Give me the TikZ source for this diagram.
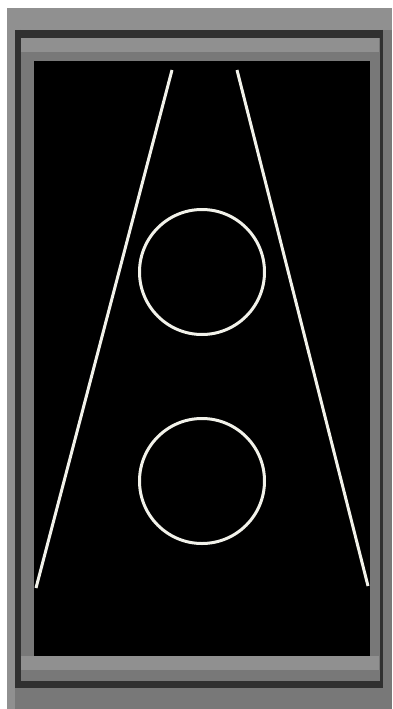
\documentclass[tikz,border=0pt]{standalone}
\usepackage{tikz}
\usetikzlibrary{positioning,calc}
\definecolor{FrameGray}{HTML}{787878}
\definecolor{FrameLight}{HTML}{909090}
\definecolor{FrameDark}{HTML}{303030}
\definecolor{ChalkWhite}{HTML}{F2F2EA}

\begin{document}
\begin{tikzpicture}[x=1pt,y=-1pt]
  \useasboundingbox (0,0) rectangle (392,709);
  \fill[white] (0,0) rectangle (392,709);
  % frame
  \fill[FrameGray] (7,8) rectangle (392,709);
  \fill[FrameLight] (7,8) rectangle (392,30);
  \fill[FrameLight] (7,8) rectangle (15,709);
  \fill[FrameDark] (15,30) rectangle (383,38);
  \fill[FrameDark] (15,681) rectangle (383,688);
  \draw[FrameDark,line width=6pt] (18,30) -- (18,688);
  \draw[FrameDark,line width=3pt] (381,30) -- (381,688);
  \fill[FrameLight] (21,38) rectangle (379,52);
  \fill[FrameLight] (21,656) rectangle (379,670);
  % board
  \fill[black] (34,61) rectangle (370,656);
  \coordinate (lt) at (172,70);
  \coordinate (lb) at (36,588);
  \coordinate (rt) at (237,70);
  \coordinate (rb) at (368,586);
  \draw[ChalkWhite,line width=3pt] (lt) -- (lb);
  \draw[ChalkWhite,line width=3pt] (rt) -- (rb);
  \node[circle,draw=ChalkWhite,line width=3pt,minimum size=125pt,inner sep=0pt] (upper) at (202,272) {};
  \node[circle,draw=ChalkWhite,line width=3pt,minimum size=125pt,inner sep=0pt] (lower) at (202,481) {};
\end{tikzpicture}
\end{document}
